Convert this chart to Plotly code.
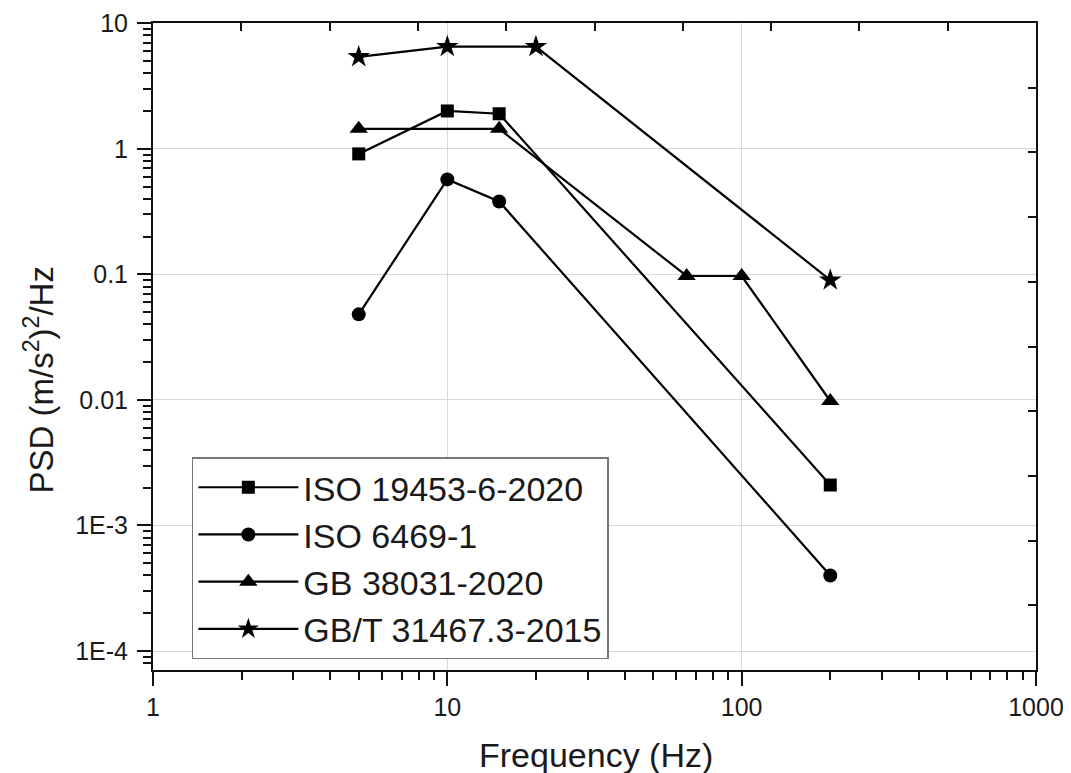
import plotly.graph_objects as go

names = ["ISO 19453-6-2020", "ISO 6469-1", "GB 38031-2020", "GB/T 31467.3-2015"]
x_iso19453 = [5, 10, 15, 200]
y_iso19453 = [0.91, 2.0, 1.9, 0.0021]
x_iso6469 = [5, 10, 15, 200]
y_iso6469 = [0.048, 0.57, 0.38, 0.0004]
x_gb38031 = [5, 15, 65, 100, 200]
y_gb38031 = [1.44, 1.44, 0.097, 0.097, 0.0098]
x_gbt31467 = [5, 10, 20, 200]
y_gbt31467 = [5.4, 6.5, 6.5, 0.09]

x_ticks = [1, 10, 100, 1000]
x_ticklabels = ["1", "10", "100", "1000"]
y_ticks = [10, 1, 0.1, 0.01, 0.001, 0.0001]
y_ticklabels = ["10", "1", "0.1", "0.01", "1E-3", "1E-4"]
x_title = "Frequency (Hz)"
y_title = "PSD (m/s<sup>2</sup>)<sup>2</sup>/Hz"

xs = [x_iso19453, x_iso6469, x_gb38031, x_gbt31467]
ys = [y_iso19453, y_iso6469, y_gb38031, y_gbt31467]
symbols = ["square", "circle", "triangle-up", "star"]
sizes = [13, 14, 16, 17]

x_minor = [m * 10 ** k for k in range(0, 3) for m in range(2, 10)]
y_minor = [m * 10.0 ** k for k in range(-5, 1) for m in range(2, 10)]

FONT = "Liberation Sans, Arial, sans-serif"
TXT = "#1a1a1a"

fig = go.Figure()
for i in range(4):
    fig.add_trace(go.Scatter(
        x=xs[i], y=ys[i], name=names[i], mode="lines+markers",
        line=dict(color="black", width=2.2),
        marker=dict(symbol=symbols[i], size=sizes[i], color="black"),
    ))

# invisible trace to show the top/right tick axes
fig.add_trace(go.Scatter(x=[0], y=[0], xaxis="x2", yaxis="y2", showlegend=False,
                         mode="markers", marker=dict(opacity=0), hoverinfo="skip"))

fig.update_layout(
    width=1071, height=773,
    margin=dict(l=145, r=43, t=15, b=111, autoexpand=False),
    paper_bgcolor="white", plot_bgcolor="white",
    font=dict(family=FONT, color=TXT, size=25),
    xaxis=dict(
        type="log", range=[0, 3],
        tickvals=x_ticks, ticktext=x_ticklabels,
        ticks="outside", ticklen=14, tickwidth=2, tickcolor="#111",
        minor=dict(ticks="outside", ticklen=8, tickwidth=2, tickcolor="#111",
                   tickvals=x_minor, showgrid=False),
        showgrid=True, gridcolor="#d9d9d9", gridwidth=1,
        showline=True, linecolor="#111", linewidth=2,
        tickfont=dict(size=25, color=TXT), zeroline=False, automargin=False,
        ticklabeloverflow="allow",
    ),
    yaxis=dict(
        type="log", range=[-4.151, 1.0015],
        tickvals=y_ticks, ticktext=y_ticklabels,
        ticks="outside", ticklen=14, tickwidth=2, tickcolor="#111",
        ticklabelstandoff=4, ticklabeloverflow="allow",
        minor=dict(ticks="outside", ticklen=8, tickwidth=2, tickcolor="#111",
                   tickvals=y_minor, showgrid=False),
        showgrid=True, gridcolor="#d9d9d9", gridwidth=1,
        showline=True, linecolor="#111", linewidth=2,
        tickfont=dict(size=25, color=TXT), zeroline=False, automargin=False,
    ),
    xaxis2=dict(
        overlaying="x", side="top", range=[0, 10], tickvals=list(range(0, 11)),
        ticks="inside", ticklen=8, tickwidth=2, tickcolor="#111",
        showticklabels=False, showgrid=False, zeroline=False,
        showline=True, linecolor="#111", linewidth=2, automargin=False,
    ),
    yaxis2=dict(
        overlaying="y", side="right", range=[0, 10], tickvals=list(range(0, 11)),
        ticks="inside", ticklen=8, tickwidth=2, tickcolor="#111",
        showticklabels=False, showgrid=False, zeroline=False,
        showline=True, linecolor="#111", linewidth=2, automargin=False,
    ),
    legend=dict(
        x=0.044, y=0.329, xanchor="left", yanchor="top",
        bgcolor="white", bordercolor="#777", borderwidth=1.5,
        font=dict(size=34, color=TXT), itemwidth=100,
        tracegroupgap=0,
    ),
    showlegend=True,
    annotations=[
        dict(text=x_title, xref="paper", yref="paper", x=0.502, y=-0.132,
             xanchor="center", yanchor="middle", showarrow=False,
             font=dict(size=34, color=TXT)),
        dict(text=y_title, xref="paper", yref="paper", x=-0.128, y=0.449,
             xanchor="center", yanchor="middle", showarrow=False, textangle=-90,
             font=dict(size=33, color=TXT)),
    ],
)

fig.write_html("out.html")
